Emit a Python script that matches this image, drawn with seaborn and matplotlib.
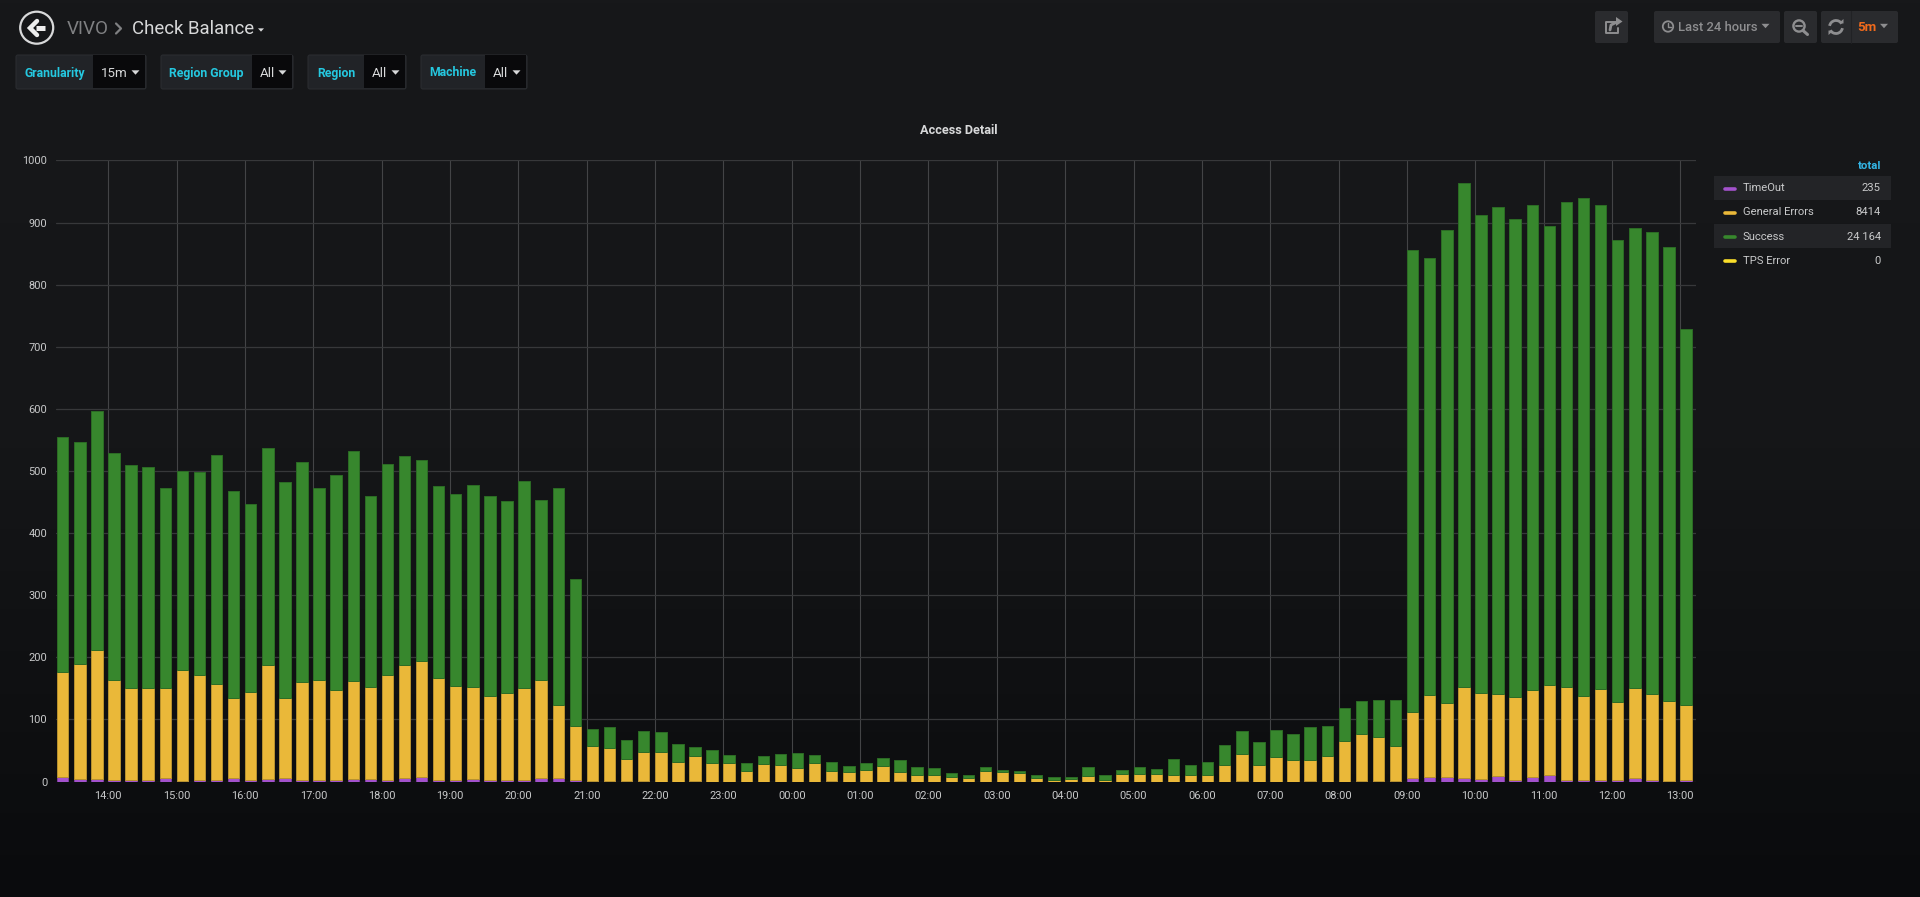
import numpy as np
import matplotlib
matplotlib.use('Agg')
import matplotlib.pyplot as plt
import matplotlib.patches as mpatches
from matplotlib.colors import LinearSegmentedColormap
import seaborn as sns

# values per 15 minute slot, first slot is 13:15
timeout = [8, 4, 4, 2, 3, 2, 6, 1, 2, 2, 5, 2, 4, 5, 2, 2, 2, 4, 4, 2, 6, 8, 2, 2, 4, 2, 2, 2, 6, 5, 2,
           1, 1, 1, 1, 0, 0, 1, 0, 0, 0, 0, 0, 0, 0, 1, 0, 0, 0, 1, 0,
           0, 0, 0, 0, 0, 0, 0, 0, 0, 0, 0, 0, 0, 0, 0, 0, 0, 0,
           1, 0, 0, 0, 1, 0, 0, 1, 1, 1,
           5, 7, 7, 5, 4, 9, 3, 8, 10, 3, 3, 3, 2, 5, 2, 1, 3]
general_errors = [169, 186, 208, 161, 147, 148, 144, 178, 169, 155, 130, 142, 184, 130, 159, 161, 146, 158,
                  148, 170, 181, 186, 164, 152, 148, 136, 140, 148, 158, 118, 88,
                  56, 53, 36, 47, 47, 31, 40, 29, 29, 17, 28, 27, 22, 29, 16, 15, 19, 25, 15, 11, 10, 7, 5, 17,
                  16, 13, 5, 3, 4, 9, 3, 12, 12, 12, 10, 10, 10, 26, 44, 26, 39, 34, 33, 41, 65, 76, 70, 56,
                  107, 133, 119, 147, 138, 132, 133, 140, 146, 149, 135, 146, 126, 145, 139, 128, 120]
success = [377, 357, 385, 366, 359, 356, 323, 321, 327, 368, 332, 303, 349, 348, 353, 310, 346, 371,
           307, 340, 337, 323, 310, 309, 326, 322, 310, 334, 290, 350, 236,
           27, 33, 30, 33, 32, 30, 15, 21, 14, 12, 13, 17, 24, 14, 14, 10, 11, 13, 18, 12, 11, 7, 5, 6,
           3, 4, 5, 4, 4, 14, 7, 6, 11, 8, 27, 16, 22, 33, 36, 38, 44, 42, 53, 48, 53, 52, 60, 75,
           744, 703, 762, 811, 770, 784, 770, 781, 739, 781, 802, 780, 744, 741, 744, 731, 606]
tps_error = [0] * 96

hour_labels = ['14:00', '15:00', '16:00', '17:00', '18:00', '19:00', '20:00', '21:00', '22:00', '23:00',
               '00:00', '01:00', '02:00', '03:00', '04:00', '05:00', '06:00', '07:00', '08:00', '09:00',
               '10:00', '11:00', '12:00', '13:00']
y_ticks = [0, 100, 200, 300, 400, 500, 600, 700, 800, 900, 1000]
legend_names = ['TimeOut', 'General Errors', 'Success', 'TPS Error']
legend_totals = ['235', '8414', '24 164', '0']

PURPLE = '#a352cc'
YELLOW = '#eab839'
GREEN = '#37872d'
TPS = '#fade2a'
legend_colors = [PURPLE, YELLOW, GREEN, TPS]

W, H = 1920, 897

sns.set_theme(style='dark')
plt.rcParams['font.family'] = ['Roboto', 'DejaVu Sans']
plt.rcParams['axes.facecolor'] = 'none'

fig = plt.figure(figsize=(W / 100, H / 100), dpi=100)

# page background
bg = fig.add_axes([0, 0, 1, 1], zorder=0)
cmap = LinearSegmentedColormap.from_list('page', ['#17181a', '#151618', '#0a0b0d'])
bg.imshow(np.linspace(0, 1, 256).reshape(-1, 1), aspect='auto', cmap=cmap)
bg.axis('off')

# chart, box given in pixels
left, right, top, bottom = 55.5, 1696, 160.5, 781.5
ax = fig.add_axes([left / W, 1 - bottom / H, (right - left) / W, (bottom - top) / H], zorder=1)

# bars start at their timestamp, seaborn centres them so shift by half a bar
slot_width = 0.67
slots = -0.75 + np.arange(96) * 0.25
centers = slots + slot_width * 0.25 / 2

t = np.array(timeout)
g = np.array(general_errors)
s = np.array(success)
stack = [(t, 0, PURPLE, '#7e3f9e'), (g, t, YELLOW, '#b8922f'), (s, t + g, GREEN, '#2c6c25')]
for vals, base, col, edge in stack:
    sns.barplot(x=centers, y=vals, bottom=base, native_scale=True, color=col, saturation=1,
                width=slot_width, edgecolor=edge, linewidth=0.7, errorbar=None, ax=ax, zorder=3)
sns.barplot(x=centers, y=tps_error, bottom=t + g + s, native_scale=True, color=TPS, saturation=1,
            width=slot_width, linewidth=0, errorbar=None, ax=ax, zorder=3)

ax.set_xlim(-(108.3 - left) / 68.35, (right - 108.3) / 68.35)
ax.set_ylim(0, 1000)
ax.set_xticks(np.arange(len(hour_labels)))
ax.set_xticklabels(hour_labels)
ax.set_yticks(y_ticks)
ax.set_xlabel('')
ax.set_ylabel('')
ax.grid(True, axis='x', color='#434446', linewidth=0.8, zorder=0)
ax.grid(True, axis='y', color='#37383a', linewidth=0.9, zorder=0)
ax.set_axisbelow(True)
ax.tick_params(axis='both', length=0, labelsize=7.9, labelcolor='#c8c9ca')
ax.tick_params(axis='x', pad=7)
ax.tick_params(axis='y', pad=6)
for spine in ax.spines.values():
    spine.set_visible(False)

# everything around the chart, in pixel coordinates
ui = fig.add_axes([0, 0, 1, 1], zorder=2)
ui.set_xlim(0, W)
ui.set_ylim(H, 0)
ui.axis('off')


def box(x0, x1, y0, y1, color, edge='none', z=1):
    ui.add_patch(mpatches.FancyBboxPatch((x0 + 2, y0 + 2), x1 - x0 - 4, y1 - y0 - 4,
                                         boxstyle='round,pad=2', fc=color, ec=edge, lw=0.8, zorder=z))


def caret(x, y, color, size=4):
    ui.add_patch(mpatches.Polygon([(x - size, y - size * 0.55), (x + size, y - size * 0.55), (x, y + size * 0.55)],
                                  closed=True, fc=color, ec='none', zorder=4))


# back button and breadcrumb
ui.add_patch(mpatches.Ellipse((36.7, 27.7), 33, 32, fc='none', ec='#d8d9da', lw=1.6))
ui.plot([36, 44.5], [28, 28], color='#eeeeee', lw=3.6, solid_capstyle='butt')
ui.plot([37, 30, 37], [21, 28, 35], color='#eeeeee', lw=3.2, solid_joinstyle='miter')
ui.text(67, 28.5, 'VIVO', color='#7f8082', fontsize=13.6, va='center')
ui.plot([116, 121, 116], [23.5, 28.5, 33.5], color='#7f8082', lw=1.6)
ui.text(132, 28.5, 'Check Balance', color='#d8d9da', fontsize=13.4, va='center')
caret(261, 30, '#d8d9da', 3)

# template variables
variables = [('Granularity', '15m', 16, 93, 146), ('Region Group', 'All', 161, 252, 293),
             ('Region', 'All', 308, 364, 406), ('Machine', 'All', 421, 484.5, 527)]
for label, value, x0, xm, x1 in variables:
    box(x0, x1, 55, 89, '#212327', '#2a2c30')
    ui.add_patch(mpatches.Rectangle((xm, 55.5), x1 - xm - 1, 33, fc='#09090b', ec='none', zorder=2))
    ui.text((x0 + xm) / 2, 73, label, color='#25c8e0', fontsize=8.8, fontweight='bold', ha='center', va='center', zorder=3)
    ui.text(xm + 8, 73.5, value, color='#d8d9da', fontsize=9.6, va='center', zorder=3)
    caret(x1 - 10.5, 72.5, '#d8d9da', 4)

# toolbar on the right
for x0, x1 in [(1595, 1628), (1654, 1780), (1784, 1817), (1821, 1898)]:
    box(x0, x1, 11, 43, '#2a2b2e')
grey = '#8e8e90'
ui.plot([1616, 1606, 1606, 1618, 1618], [22, 22, 33, 33, 28], color=grey, lw=1.4, zorder=3)
ui.plot([1610, 1611, 1617], [30, 25, 22], color=grey, lw=2, zorder=3)
ui.add_patch(mpatches.Polygon([(1616, 17), (1622.5, 21.5), (1616, 26)], closed=True, fc=grey, ec='none', zorder=4))
ui.add_patch(mpatches.Circle((1668, 26.5), 5.2, fc='none', ec=grey, lw=1.3, zorder=3))
ui.plot([1668, 1668, 1671], [23, 27, 27], color=grey, lw=1, zorder=3)
ui.text(1678, 27.5, 'Last 24 hours', color=grey, fontsize=9.4, fontweight='medium', va='center', zorder=3)
caret(1765.5, 26, grey, 4)
ui.add_patch(mpatches.Circle((1799, 26), 5.6, fc='none', ec=grey, lw=1.7, zorder=3))
ui.plot([1796, 1802], [26, 26], color=grey, lw=1.4, zorder=3)
ui.plot([1803, 1807.5], [30.5, 34.5], color=grey, lw=2.2, zorder=3)
ui.add_patch(mpatches.Arc((1836, 27), 13, 13, theta1=190, theta2=330, ec=grey, lw=2, zorder=3))
ui.add_patch(mpatches.Arc((1836, 27), 13, 13, theta1=10, theta2=150, ec=grey, lw=2, zorder=3))
ui.add_patch(mpatches.Polygon([(1839, 23), (1843.5, 19), (1843.5, 23.5)], closed=True, fc=grey, ec='none', zorder=4))
ui.add_patch(mpatches.Polygon([(1833, 31), (1828.5, 35), (1828.5, 30.5)], closed=True, fc=grey, ec='none', zorder=4))
ui.plot([1851, 1851], [11, 43], color='#212225', lw=0.8, zorder=3)
ui.text(1857, 27.5, '5m', color='#f06a1c', fontsize=9.6, fontweight='bold', va='center', zorder=3)
caret(1884, 26, grey, 4)

# chart title
ui.text(959, 130, 'Access Detail', color='#d8d9da', fontsize=9.2, fontweight='bold', ha='center', va='center')

# legend table
ui.text(1881, 166, 'total', color='#33b5e5', fontsize=8.2, fontweight='bold', ha='right', va='center')
row_y = [188, 212, 236.5, 260.5]
for i, (name, total, col) in enumerate(zip(legend_names, legend_totals, legend_colors)):
    if i % 2 == 0 and i < 3:
        ui.add_patch(mpatches.Rectangle((1714, row_y[i] - 12), 177, 24, fc='#232427', ec='none', zorder=1))
    ui.plot([1724.5, 1734.5], [row_y[i] + 1, row_y[i] + 1], color=col, lw=2.6, solid_capstyle='round', zorder=3)
    ui.text(1742.7, row_y[i], name, color='#c8c9ca', fontsize=8.1, va='center', zorder=3)
    ui.text(1881, row_y[i], total, color='#c8c9ca', fontsize=8.1, ha='right', va='center', zorder=3)

fig.savefig('out.png', dpi=100, facecolor='#111214')
